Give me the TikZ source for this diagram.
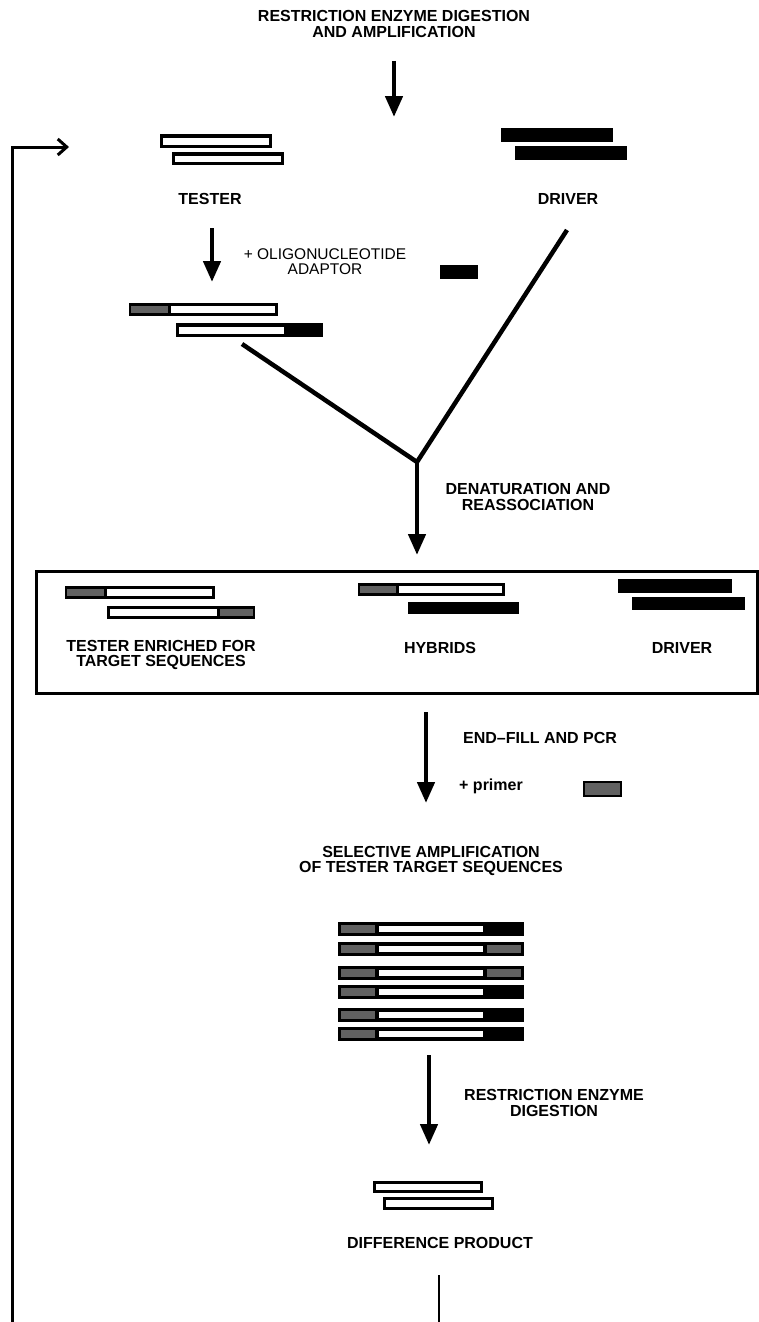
\documentclass[tikz,border=0pt]{standalone}
\usepackage{fontspec}
\setmainfont{Liberation Sans}
\usetikzlibrary{arrows.meta}

\tikzset{
  lab/.style={font=\fontsize{16}{15.5}\selectfont\bfseries, align=center, inner sep=0pt},
  note/.style={font=\fontsize{15.5}{15}\selectfont, align=center, inner sep=0pt},
  flow/.style={line width=4.5pt, -{Triangle[width=17pt,length=21pt]}},
  ink/.style={fill=black},
  hollow/.style={fill=white},
  tag/.style={fill=black!62},
}

\begin{document}
\begin{tikzpicture}[x=1pt, y=-1pt]
\useasboundingbox (0,0) rectangle (758,1322);

% labels
\node[lab] (digest) at (394,24) {RESTRICTION ENZYME DIGESTION\\AND AMPLIFICATION};
\node[lab] (tester) at (210,199) {TESTER};
\node[lab] (driver) at (568,199) {DRIVER};
\node[note] (adaptor) at (325,262) {+ OLIGONUCLEOTIDE\\ADAPTOR};
\node[lab] (denat) at (528,497) {DENATURATION AND\\REASSOCIATION};
\node[lab] (enriched) at (161,655) {TESTER ENRICHED FOR\\TARGET SEQUENCES};
\node[lab] (hybrids) at (440,648) {HYBRIDS};
\node[lab] (driverb) at (682,648) {DRIVER};
\node[lab, anchor=west] (endfill) at (463,738) {END--FILL AND PCR};
\node[lab, anchor=west] (primer) at (459,786) {+ primer};
\node[lab] (selective) at (431,861) {SELECTIVE AMPLIFICATION\\OF TESTER TARGET SEQUENCES};
\node[lab] (redigest) at (554,1103) {RESTRICTION ENZYME\\DIGESTION};
\node[lab] (product) at (440,1243) {DIFFERENCE PRODUCT};

% tester and driver
\fill[ink] (160,134) rectangle (272,148); \fill[hollow] (163,137.5) rectangle (269,144.5);
\fill[ink] (172,152) rectangle (284,165); \fill[hollow] (175,155.5) rectangle (281,161.5);
\fill[ink] (501,128) rectangle (613,142);
\fill[ink] (515,146) rectangle (627,160);

% adaptor and ligated tester
\fill[ink] (440,265) rectangle (478,279);
\fill[ink] (129,303) rectangle (278,316);
\fill[tag] (131,306) rectangle (168,313); \fill[hollow] (171,306) rectangle (275,313);
\fill[ink] (176,323) rectangle (323,337);
\fill[hollow] (179,326.5) rectangle (284,333.5);

% hybridisation box
\draw[line width=3pt] (36,571) rectangle (757,693);
\fill[ink] (65,586) rectangle (215,599);
\fill[tag] (67,589) rectangle (104,596); \fill[hollow] (107,589) rectangle (212,596);
\fill[ink] (107,606) rectangle (255,619);
\fill[hollow] (110,609) rectangle (217,616); \fill[tag] (220,609) rectangle (253,616);
\fill[ink] (358,583) rectangle (505,596);
\fill[tag] (360,586) rectangle (396,593); \fill[hollow] (399,586) rectangle (502,593);
\fill[ink] (408,602) rectangle (519,614);
\fill[ink] (618,579) rectangle (732,593);
\fill[ink] (632,597) rectangle (745,610);

% primer
\draw[tag, draw=black, line width=2pt] (584,782) rectangle (621,796);

% amplified products
\foreach \t/\g in {922/0, 942/1, 966/1, 985/0, 1008/0, 1027/0}{
  \fill[ink] (338,\t) rectangle (524,\t+13.5);
  \fill[tag] (341,\t+3) rectangle (375,\t+10.5);
  \fill[hollow] (379,\t+3.5) rectangle (483,\t+10);
  \ifnum\g=1 \fill[tag] (487,\t+3) rectangle (521,\t+10.5); \fi
}

% difference product
\fill[ink] (373,1181) rectangle (483,1193); \fill[hollow] (376,1184) rectangle (480,1190);
\fill[ink] (383,1197) rectangle (494,1210); \fill[hollow] (386,1200) rectangle (491,1207);

% arrows
\coordinate (a1) at (394,61);   \coordinate (a1e) at (394,117);
\coordinate (a2) at (212,228);  \coordinate (a2e) at (212,282);
\coordinate (yl) at (242,344);  \coordinate (yr) at (567,230);
\coordinate (yj) at (417,462);  \coordinate (yje) at (417,555);
\coordinate (a4) at (426,712);  \coordinate (a4e) at (426,803);
\coordinate (a5) at (429,1055); \coordinate (a5e) at (429,1145);
\coordinate (lb) at (12,1322);  \coordinate (lc) at (12,147);
\coordinate (le) at (69,147);
\coordinate (tb) at (439,1275); \coordinate (te) at (439,1322);

\draw[flow] (a1) -- (a1e);
\draw[flow] (a2) -- (a2e);
\draw[line width=4.5pt, line join=miter] (yl) -- (yj) -- (yr);
\draw[flow] (yj) -- (yje);
\draw[flow] (a4) -- (a4e);
\draw[flow] (a5) -- (a5e);
\draw[line width=3pt, -{Straight Barb[length=9pt,width=16pt,line width=3pt]}] (lb) -- (lc) -- (le);
\draw[line width=1.5pt] (tb) -- (te);
\end{tikzpicture}
\end{document}
